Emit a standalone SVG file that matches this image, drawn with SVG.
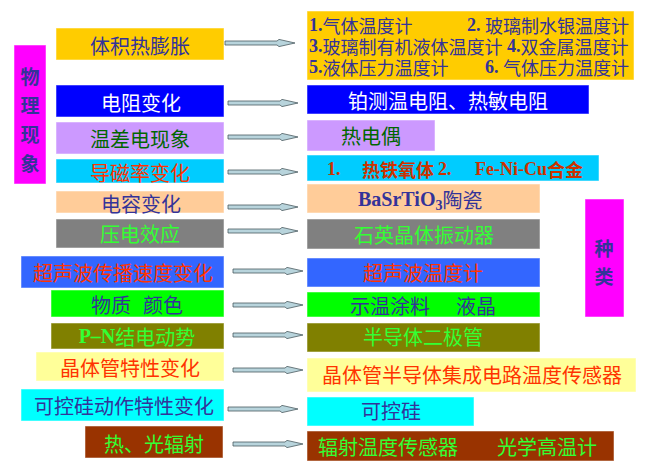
<svg xmlns="http://www.w3.org/2000/svg" width="662" height="473" viewBox="0 0 662 473">
<style>
text{font-family:"Liberation Serif","Noto Sans CJK SC",serif;font-size:20px;dominant-baseline:central}
.c{text-anchor:middle}
.cjk{font-family:"Noto Sans CJK SC",sans-serif}
.b{font-weight:bold}
.s18{font-size:18px}
.s19{font-size:19px}
.s14{font-size:14px}
.bl{fill:#333399}.w{fill:#ffffff}.dg{fill:#006600}.rd{fill:#ff3300}.gr{fill:#33ff33}
.box{stroke:#ffffff;stroke-opacity:0.5;stroke-width:1}
.arr{fill:#b8d4dc;stroke:#4a5a60;stroke-width:0.8}
</style>
<defs>
<path id="ar" d="M0,-2 L52,-2 L54,-3.6 L70,0 L54,3.6 L52,2 L0,2 Z"/>
</defs>
<rect width="662" height="473" fill="#ffffff"/>

<g id="side-left">
<rect class="box" x="14" y="45" width="32" height="139" fill="#ff00ff"/>
<text class="c cjk b bl s19" x="30" y="75">物</text>
<text class="c cjk b bl s19" x="30" y="104">理</text>
<text class="c cjk b bl s19" x="30" y="133">现</text>
<text class="c cjk b bl s19" x="30" y="162">象</text>
</g>
<g id="side-right">
<rect class="box" x="585" y="199" width="39" height="118" fill="#ff00ff"/>
<text class="c cjk b bl s19" x="604" y="247">种</text>
<text class="c cjk b bl s19" x="604" y="275">类</text>
</g>

<g id="L1"><rect class="box" x="56" y="28" width="168" height="32" fill="#ffcc00"/><text class="c cjk bl" x="140" y="45">体积热膨胀</text></g>
<g id="L2"><rect class="box" x="56" y="85" width="168" height="32" fill="#0000ff"/><text class="c cjk w" x="141" y="102">电阻变化</text></g>
<g id="L3"><rect class="box" x="56" y="122" width="168" height="32" fill="#cc99ff"/><text class="c cjk dg" x="140" y="138">温差电现象</text></g>
<g id="L4"><rect class="box" x="56" y="159" width="168" height="24" fill="#00ccff"/><text class="c cjk rd" x="140" y="172">导磁率变化</text></g>
<g id="L5"><rect class="box" x="56" y="191" width="168" height="22" fill="#ffcc99"/><text class="c cjk bl" x="141" y="203">电容变化</text></g>
<g id="L6"><rect class="box" x="56" y="219" width="168" height="29" fill="#808080"/><text class="c cjk gr" x="140" y="233">压电效应</text></g>
<g id="L7"><rect class="box" x="21" y="256" width="203" height="32" fill="#3366ff"/><text class="c cjk rd" x="123" y="272">超声波传播速度变化</text></g>
<g id="L8"><rect class="box" x="51" y="290" width="173" height="27" fill="#00ff00"/><text class="cjk bl" y="304"><tspan x="91">物质</tspan><tspan x="143">颜色</tspan></text></g>
<g id="L9"><rect class="box" x="51" y="323" width="173" height="26" fill="#808000"/><text class="c gr" x="137" y="336"><tspan class="b">P–N</tspan><tspan class="cjk">结电动势</tspan></text></g>
<g id="L10"><rect class="box" x="36" y="352" width="188" height="29" fill="#ffff99"/><text class="c cjk rd" x="130" y="367">晶体管特性变化</text></g>
<g id="L11"><rect class="box" x="21" y="389" width="203" height="32" fill="#00ffff"/><text class="c cjk bl" x="124" y="405">可控硅动作特性变化</text></g>
<g id="L12"><rect class="box" x="85" y="426" width="138" height="32" fill="#993300"/><text class="c cjk gr" x="154" y="443">热、光辐射</text></g>

<g id="R1"><rect class="box" x="307" y="11" width="327" height="69" fill="#ffcc00"/>
<text class="bl s18" y="25"><tspan x="309" class="b">1.</tspan><tspan class="cjk">气体温度计</tspan><tspan x="467" class="b">2. </tspan><tspan class="cjk">玻璃制水银温度计</tspan></text>
<text class="bl s18" y="46"><tspan x="309" class="b">3.</tspan><tspan class="cjk">玻璃制有机液体温度计</tspan><tspan x="507" class="b">4.</tspan><tspan class="cjk">双金属温度计</tspan></text>
<text class="bl s18" y="67"><tspan x="309" class="b">5.</tspan><tspan class="cjk">液体压力温度计</tspan><tspan x="485" class="b">6. </tspan><tspan class="cjk">气体压力温度计</tspan></text>
</g>
<g id="R2"><rect class="box" x="307" y="85" width="282" height="29" fill="#0000ff"/><text class="c cjk w" x="448" y="100">铂测温电阻、热敏电阻</text></g>
<g id="R3"><rect class="box" x="307" y="120" width="128" height="31" fill="#cc99ff"/><text class="c cjk dg" x="371" y="135">热电偶</text></g>
<g id="R4"><rect class="box" x="307" y="155" width="292" height="26" fill="#00ccff"/><text class="b s18" y="169" fill="#cc3300"><tspan x="327">1.</tspan><tspan x="362" class="cjk">热铁氧体</tspan><tspan x="438">2.</tspan><tspan x="475">Fe-Ni-Cu</tspan><tspan class="cjk">合金</tspan></text></g>
<g id="R5"><rect class="box" x="307" y="184" width="233" height="29" fill="#ffcc99"/><text class="bl" x="358" y="199"><tspan class="b">BaSrTiO</tspan><tspan class="b s14" dy="6">3</tspan><tspan class="cjk" dy="-6">陶瓷</tspan></text></g>
<g id="R6"><rect class="box" x="307" y="219" width="233" height="30" fill="#808080"/><text class="c cjk gr" x="424" y="234">石英晶体振动器</text></g>
<g id="R7"><rect class="box" x="307" y="258" width="233" height="29" fill="#3366ff"/><text class="c cjk rd" x="423" y="272">超声波温度计</text></g>
<g id="R8"><rect class="box" x="307" y="292" width="233" height="25" fill="#00ff00"/><text class="cjk bl" y="305"><tspan x="350">示温涂料</tspan><tspan x="456">液晶</tspan></text></g>
<g id="R9"><rect class="box" x="307" y="323" width="233" height="29" fill="#808000"/><text class="c cjk gr" x="423" y="336">半导体二极管</text></g>
<g id="R10"><rect class="box" x="307" y="358" width="329" height="34" fill="#ffff99"/><text class="c cjk rd" x="472" y="374">晶体管半导体集成电路温度传感器</text></g>
<g id="R11"><rect class="box" x="307" y="397" width="167" height="29" fill="#00ffff"/><text class="c cjk bl" x="391" y="410">可控硅</text></g>
<g id="R12"><rect class="box" x="307" y="431" width="307" height="30" fill="#993300"/><text class="cjk gr" y="446"><tspan x="318">辐射温度传感器</tspan><tspan x="497">光学高温计</tspan></text></g>

<g id="connectors" class="arr">
<use href="#ar" x="225" y="43"/>
<use href="#ar" x="228" y="103"/>
<use href="#ar" x="228" y="137"/>
<use href="#ar" x="228" y="172"/>
<use href="#ar" x="228" y="207"/>
<use href="#ar" x="228" y="231"/>
<use href="#ar" x="233" y="271"/>
<use href="#ar" x="233" y="305"/>
<use href="#ar" x="233" y="335"/>
<use href="#ar" x="233" y="370"/>
<use href="#ar" x="228" y="409"/>
<use href="#ar" x="233" y="444"/>
</g>
</svg>
